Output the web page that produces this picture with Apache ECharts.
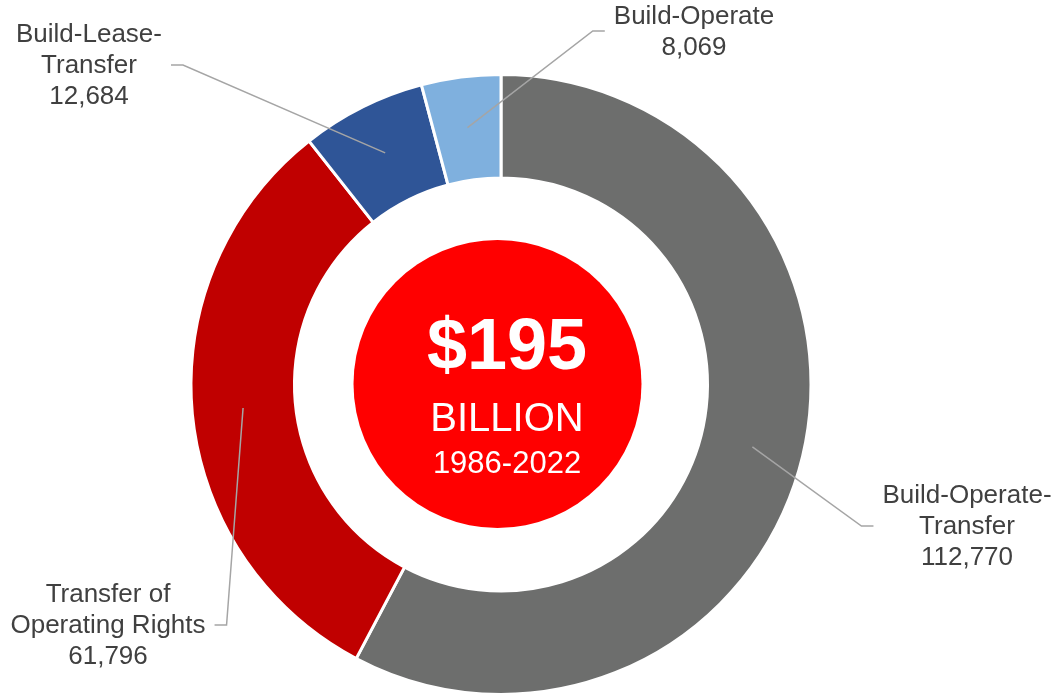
<!DOCTYPE html>
<html><head><meta charset="utf-8">
<script src="https://cdn.jsdelivr.net/npm/echarts@6/dist/echarts.min.js"></script>
<style>html,body{margin:0;padding:0;background:#fff}#c{width:1064px;height:696px}</style>
</head><body><div id="c"></div>
<script>
// ---- data ----
const categories = ['Build-Operate-Transfer', 'Transfer of Operating Rights', 'Build-Lease-Transfer', 'Build-Operate'];
const labelNames = ['Build-Operate-\nTransfer', 'Transfer of\nOperating Rights', 'Build-Lease-\nTransfer', 'Build-Operate'];
const values = [112770, 61796, 12684, 8069];
const centerTitle = '$195';
const centerUnit = 'BILLION';
const centerPeriod = '1986-2022';

// ---- style / layout ----
const colors = ['#6d6e6d', '#c00000', '#2f5597', '#7fb0de'];
const labelSpots = [
  { x: 967, y: 527, side: 'right' },
  { x: 108, y: 626, side: 'left' },
  { x: 89, y: 66, side: 'left' },
  { x: 694, y: 32, side: 'right' }
];
const FONT = 'Arial, "Liberation Sans", sans-serif';

const chart = echarts.init(document.getElementById('c'), null, { renderer: 'canvas' });

const ringData = categories.map((n, i) => ({ name: n, value: values[i], itemStyle: { color: colors[i] } }));
const guideData = categories.map((n, i) => ({ name: n, value: values[i] }));

function layoutLabel(p) {
  const spot = labelSpots[p.dataIndex];
  let sx, sy;
  try {
    const lay = chart.getModel().getSeriesByIndex(p.seriesIndex).getData().getItemLayout(p.dataIndex);
    const mid = (lay.startAngle + lay.endAngle) / 2;
    sx = lay.cx + lay.r * Math.cos(mid);
    sy = lay.cy + lay.r * Math.sin(mid);
  } catch (e) {
    sx = p.labelLinePoints[0][0];
    sy = p.labelLinePoints[0][1];
  }
  const w = p.labelRect.width;
  let ex, bx;
  if (spot.side === 'right') { ex = spot.x - w / 2 - 9; bx = ex - 12; }
  else { ex = spot.x + w / 2 + 9; bx = ex + 12; }
  const ly = spot.y - 1;
  return {
    x: spot.x, y: spot.y, align: 'center', verticalAlign: 'middle',
    labelLinePoints: [[sx, sy], [bx, ly], [ex, ly]]
  };
}

chart.setOption({
  animation: false,
  backgroundColor: '#fff',
  series: [
    {
      type: 'pie',
      z: 2,
      center: [501, 384.5],
      radius: [206.5, 310],
      startAngle: 90,
      clockwise: true,
      silent: true,
      label: { show: false },
      labelLine: { show: false },
      itemStyle: { borderColor: '#fff', borderWidth: 3 },
      emphasis: { disabled: true },
      data: ringData
    },
    {
      type: 'pie',
      z: 5,
      center: [501, 384.5],
      radius: [0, 259],
      startAngle: 90,
      clockwise: true,
      silent: true,
      avoidLabelOverlap: false,
      itemStyle: { color: 'rgba(0,0,0,0)', borderWidth: 0 },
      emphasis: { disabled: true },
      label: {
        show: true,
        position: 'outside',
        formatter: (p) => labelNames[p.dataIndex] + '\n' + values[p.dataIndex].toLocaleString('en-US'),
        fontFamily: FONT,
        fontSize: 26,
        lineHeight: 31,
        color: '#404040',
        align: 'center'
      },
      labelLine: { show: true, smooth: false, lineStyle: { color: '#a5a5a5', width: 1.5 } },
      labelLayout: layoutLabel,
      data: guideData
    },
    {
      type: 'pie',
      z: 4,
      center: [497.5, 384],
      radius: [0, 144],
      silent: true,
      emphasis: { disabled: true },
      itemStyle: { color: '#ff0000' },
      labelLine: { show: false },
      label: {
        show: true,
        position: 'center',
        offset: [9.5, 10],
        formatter: () => '{t1|' + centerTitle + '}\n{t2|' + centerUnit + '}\n{t3|' + centerPeriod + '}',
        rich: {
          t1: { fontFamily: FONT, fontSize: 72, fontWeight: 'bold', color: '#fff', lineHeight: 95, align: 'center' },
          t2: { fontFamily: FONT, fontSize: 40, color: '#fff', lineHeight: 46, align: 'center' },
          t3: { fontFamily: FONT, fontSize: 31, color: '#fff', lineHeight: 43, align: 'center' }
        }
      },
      data: [{ name: 'total', value: 1 }]
    }
  ]
});
</script>
</body></html>
